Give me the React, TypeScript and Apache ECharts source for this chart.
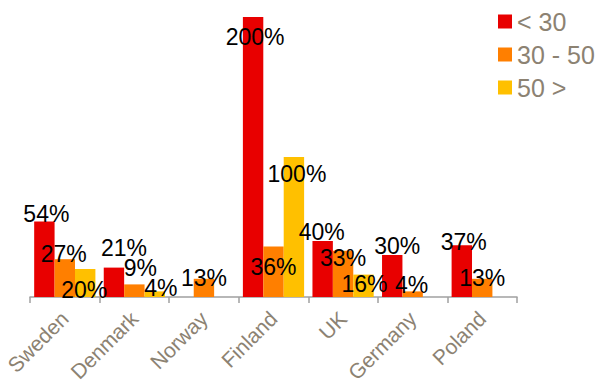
import React, { useEffect, useRef } from "react";
import * as echarts from "echarts";

const categories = ["Sweden", "Denmark", "Norway", "Finland", "UK", "Germany", "Poland"];
const seriesNames = ["< 30", "30 - 50", "50 >"];
const under30 = [54, 21, 0, 200, 40, 30, 37];
const from30to50 = [27, 9, 13, 36, 33, 4, 13];
const over50 = [20, 4, 0, 100, 16, 0, 0];

// label nudges (style only)
const offsetsUnder30 = [[2, -7], [10, -20], [0, 0], [2, 20], [-1, -9], [5, -9], [2, -3]];
const offsets30to50 = [[-1, -5], [6, -16], [0, -1], [0, 20], [0, 7], [-1, -6], [0, -1]];
const offsetsOver50 = [[-1, 21], [6, -3], [0, 0], [3, 17], [1, 9], [0, 0], [0, 0]];

const colors = ["#E80000", "#FF7F00", "#FFC000"];
const FONT = "'Liberation Sans', Arial, sans-serif";
const GREY = "#8C8272";

function makeSeries(name: string, values: number[], offsets: number[][], color: string) {
  return {
    name,
    type: "bar",
    barGap: "0%",
    barCategoryGap: "12%",
    itemStyle: { color },
    data: values.map((v, i) => ({
      value: v,
      label: {
        show: v !== 0,
        position: "top",
        distance: 0,
        align: "center",
        verticalAlign: "middle",
        offset: offsets[i],
      },
    })),
    label: {
      show: true,
      formatter: (p: any) => (p.value === 0 ? "" : p.value + "%"),
      fontSize: 23,
      lineHeight: 18,
      fontFamily: FONT,
      color: "#000",
    },
  };
}

export default function App() {
  const ref = useRef<HTMLDivElement>(null);
  useEffect(() => {
    document.body.style.margin = "0";
    const chart = echarts.init(ref.current!, null, { renderer: "svg" });
    chart.setOption({
      animation: false,
      backgroundColor: "#fff",
      color: colors,
      grid: { left: 30, right: 79, top: 17, bottom: 90, containLabel: false, outerBoundsMode: "none" },
      legend: {
        orient: "vertical",
        left: 493,
        top: 4,
        itemWidth: 14,
        itemHeight: 14,
        itemGap: 8,
        icon: "rect",
        textStyle: { fontSize: 25, fontFamily: FONT, color: GREY, padding: [0, 0, 0, 0] },
        data: seriesNames,
      },
      xAxis: {
        type: "category",
        data: categories,
        axisLine: { lineStyle: { color: "#A0A0A0", width: 1.5 } },
        axisTick: { show: true, length: 6, alignWithLabel: false, lineStyle: { color: "#A0A0A0", width: 1.5 } },
        axisLabel: { rotate: 45, fontSize: 21, fontFamily: FONT, color: GREY, margin: 18, interval: 0 },
      },
      yAxis: {
        type: "value",
        min: 0,
        max: 200,
        show: false,
        splitLine: { show: false },
      },
      series: [
        makeSeries(seriesNames[0], under30, offsetsUnder30, colors[0]),
        makeSeries(seriesNames[1], from30to50, offsets30to50, colors[1]),
        makeSeries(seriesNames[2], over50, offsetsOver50, colors[2]),
      ],
    });
    return () => chart.dispose();
  }, []);
  return <div ref={ref} style={{ width: 596, height: 387 }} />;
}
